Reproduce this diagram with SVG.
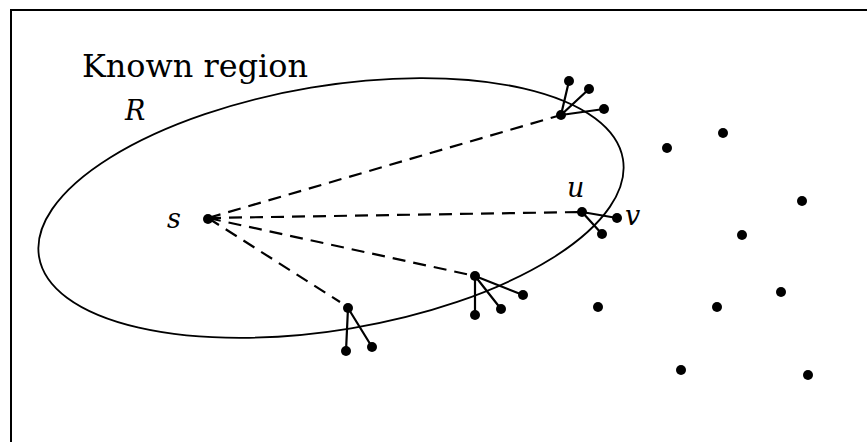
<svg xmlns="http://www.w3.org/2000/svg" width="867" height="442" viewBox="0 0 867 442">
<style>
.frame{fill:none;stroke:#000;stroke-width:2}
.region{fill:none;stroke:#000;stroke-width:1.8}
.dash{fill:none;stroke:#000;stroke-width:2.2;stroke-dasharray:13 8}
.edge{fill:none;stroke:#000;stroke-width:2.2}
.dot{fill:#000}
text{font-family:'DejaVu Serif','Liberation Serif',serif;fill:#000}
.it{font-style:italic;font-size:27px}
</style>
<rect width="867" height="442" fill="#fff"/>
<path class="frame" d="M11,446 V10 H870"/>
<g id="region">
<ellipse class="region" cx="331" cy="208" rx="296" ry="122" transform="rotate(-9.5 331 208)"/>
<text x="82" y="77" font-size="31" textLength="226" lengthAdjust="spacingAndGlyphs">Known region</text>
<text class="it" x="125" y="120">R</text>
</g>
<g id="connectors">
<line class="dash" x1="208" y1="218" x2="561" y2="115"/>
<line class="dash" x1="208" y1="218" x2="582" y2="212"/>
<line class="dash" x1="208" y1="218" x2="475" y2="276"/>
<line class="dash" x1="208" y1="218" x2="340" y2="302"/>
<path class="edge" d="M561,115 L569,81 M561,115 L589,89 M561,115 L604,109"/>
<path class="edge" d="M582,212 L617,218 M582,212 L602,234"/>
<path class="edge" d="M475,276 L475,315 M475,276 L501,309 M475,276 L523,295"/>
<path class="edge" d="M348,308 L346,351 M348,308 L372,347"/>
</g>
<g id="node-s">
<circle class="dot" cx="208" cy="219" r="5"/>
<text class="it" x="167" y="228">s</text>
</g>
<g id="node-top">
<circle class="dot" cx="561" cy="115" r="5"/>
<circle class="dot" cx="569" cy="81" r="5"/>
<circle class="dot" cx="589" cy="89" r="5"/>
<circle class="dot" cx="604" cy="109" r="5"/>
</g>
<g id="node-u">
<circle class="dot" cx="582" cy="212" r="5"/>
<text class="it" x="567" y="197">u</text>
<circle class="dot" cx="602" cy="234" r="5"/>
</g>
<g id="node-v">
<circle class="dot" cx="617" cy="218" r="5"/>
<text class="it" x="625" y="225">v</text>
</g>
<g id="node-mid">
<circle class="dot" cx="475" cy="276" r="5"/>
<circle class="dot" cx="475" cy="315" r="5"/>
<circle class="dot" cx="501" cy="309" r="5"/>
<circle class="dot" cx="523" cy="295" r="5"/>
</g>
<g id="node-bottom">
<circle class="dot" cx="348" cy="308" r="5"/>
<circle class="dot" cx="346" cy="351" r="5"/>
<circle class="dot" cx="372" cy="347" r="5"/>
</g>
<g id="node-unknown">
<circle class="dot" cx="667" cy="148" r="5"/>
<circle class="dot" cx="723" cy="133" r="5"/>
<circle class="dot" cx="802" cy="201" r="5"/>
<circle class="dot" cx="742" cy="235" r="5"/>
<circle class="dot" cx="598" cy="307" r="5"/>
<circle class="dot" cx="717" cy="307" r="5"/>
<circle class="dot" cx="781" cy="292" r="5"/>
<circle class="dot" cx="681" cy="370" r="5"/>
<circle class="dot" cx="808" cy="375" r="5"/>
</g>
</svg>
